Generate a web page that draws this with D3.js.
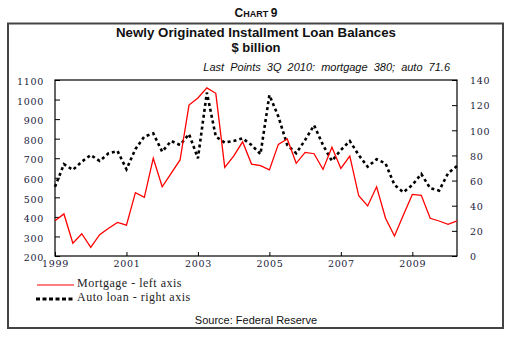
<!DOCTYPE html>
<html><head><meta charset="utf-8">
<script src="https://cdn.jsdelivr.net/npm/d3@7"></script>
<style>body{margin:0;background:#fff}svg{display:block}</style>
</head><body>
<script>
const startYear = 1999;
const mortgage = [380,415,265,314,244,309,342,372,358,524,500,700,554,622,691,972,1008,1060,1032,653,711,784,670,662,640,771,798,674,730,723,643,756,648,711,508,456,554,393,302,410,515,510,393,379,362,380];
const auto = [55,73,68.5,75,80.3,75.6,81.7,83.5,69,85,95,97.5,83,91.5,88.3,97,77.7,130,95,90.2,91.5,93.6,88.3,81,128,111,88.3,81.7,92.3,104,88.3,75.6,84.3,91.5,80.3,71,77,73.7,56.5,50.7,56.5,65.2,53.9,52,65.8,71.6];
const xTicks = [1999,2001,2003,2005,2007,2009];
const leftTicks = [200,300,400,500,600,700,800,900,1000,1100];
const rightTicks = [0,20,40,60,80,100,120,140];

const W=512,H=338;
const svg=d3.select("body").append("svg").attr("width",W).attr("height",H);
const m={l:55,r:457,t:80,b:256};
const x=d3.scaleLinear().domain([1999,2010.25]).range([m.l,m.r]);
const yL=d3.scaleLinear().domain([200,1100]).range([m.b,m.t]);
const yR=d3.scaleLinear().domain([0,140]).range([m.b,m.t]);
const t=(i)=>startYear+i/4;

// frame
svg.append("rect").attr("x",8).attr("y",23.5).attr("width",495).attr("height",304.5)
  .attr("fill","none").attr("stroke","#444").attr("stroke-width",2);

// header
const ct=svg.append("text").attr("x",256).attr("y",17).attr("text-anchor","middle")
  .attr("font-family","Liberation Sans, Arial, sans-serif").attr("font-weight","bold").attr("fill","#111");
ct.append("tspan").attr("font-size",12).text("C");
ct.append("tspan").attr("font-size",9).text("HART ");
ct.append("tspan").attr("font-size",12).text("9");

svg.append("text").attr("x",256).attr("y",37).attr("text-anchor","middle")
  .attr("font-family","Liberation Sans, Arial, sans-serif").attr("font-weight","bold").attr("font-size",13.3).attr("fill","#111")
  .text("Newly Originated Installment Loan Balances");
svg.append("text").attr("x",256).attr("y",52).attr("text-anchor","middle")
  .attr("font-family","Liberation Sans, Arial, sans-serif").attr("font-weight","bold").attr("font-size",13).attr("fill","#111")
  .text("$ billion");
svg.append("text").attr("x",450).attr("y",71).attr("text-anchor","end")
  .attr("font-family","Liberation Sans, Arial, sans-serif").attr("font-style","italic").attr("font-size",11).attr("word-spacing",3).attr("fill","#111")
  .text("Last Points 3Q 2010: mortgage 380; auto 71.6");

// axes
const serif="DejaVu Serif, serif";
const gL=svg.append("g").attr("transform",`translate(${m.l},0)`)
  .call(d3.axisLeft(yL).tickValues(leftTicks).tickSize(-5).tickPadding(11).tickFormat(d3.format("d")));
const gR=svg.append("g").attr("transform",`translate(${m.r},0)`)
  .call(d3.axisRight(yR).tickValues(rightTicks).tickSize(-5).tickPadding(13).tickFormat(d3.format("d")));
const gX=svg.append("g").attr("transform",`translate(0,${m.b})`)
  .call(d3.axisBottom(x).tickValues(xTicks).tickSize(-4).tickPadding(4).tickFormat(d3.format("d")));
[gL,gR,gX].forEach(g=>{
  g.select(".domain").remove();
  g.selectAll("line").attr("stroke","#000");
  g.selectAll("text").attr("font-family",serif).attr("font-size",9.5).attr("letter-spacing",0.7).attr("fill","#1a1a3a");
});
gL.selectAll("text").attr("dy","0.5em");
gR.selectAll("text").attr("dy","0.4em");
gX.selectAll("text").attr("dy","0.75em");

svg.append("rect").attr("x",m.l).attr("y",m.t).attr("width",m.r-m.l).attr("height",m.b-m.t)
  .attr("fill","none").attr("stroke","#000").attr("stroke-width",1.2);

// lines
const lineM=d3.line().x((d,i)=>x(t(i))).y(d=>yL(d));
const lineA=d3.line().x((d,i)=>x(t(i))).y(d=>yR(d));
svg.append("path").datum(auto).attr("d",lineA).attr("fill","none").attr("stroke","#000")
  .attr("stroke-width",2.6).attr("stroke-dasharray","3,3");
svg.append("path").datum(mortgage).attr("d",lineM).attr("fill","none").attr("stroke","#ff0000")
  .attr("stroke-width",1.3).attr("stroke-linejoin","miter");

// legend
svg.append("line").attr("x1",37).attr("x2",74).attr("y1",285).attr("y2",285).attr("stroke","#ff0000").attr("stroke-width",1.2);
svg.append("line").attr("x1",36).attr("x2",74).attr("y1",299).attr("y2",299).attr("stroke","#000").attr("stroke-width",3).attr("stroke-dasharray","4,2.5");
const lf="Liberation Serif, Times New Roman, serif";
svg.append("text").attr("x",77).attr("y",287).attr("font-family",lf).attr("font-size",12).attr("letter-spacing",0.5).attr("fill","#222").text("Mortgage - left axis");
svg.append("text").attr("x",77).attr("y",301).attr("font-family",lf).attr("font-size",12).attr("letter-spacing",0.5).attr("fill","#222").text("Auto loan - right axis");

svg.append("text").attr("x",256).attr("y",324).attr("text-anchor","middle")
  .attr("font-family","Liberation Sans, Arial, sans-serif").attr("font-size",11).attr("fill","#111")
  .text("Source: Federal Reserve");
</script>
</body></html>
